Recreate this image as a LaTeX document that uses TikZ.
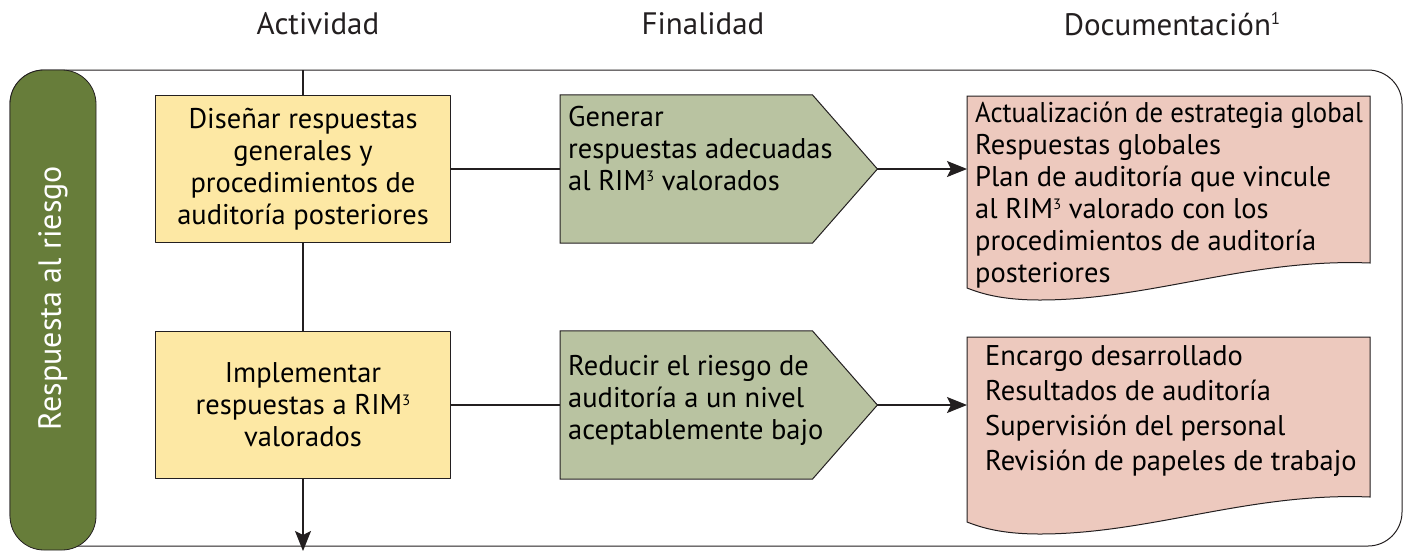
\documentclass[tikz,border=0pt]{standalone}
\usepackage{fontspec}
\setmainfont{PT Sans}
\usetikzlibrary{arrows.meta,backgrounds}
\definecolor{barverde}{HTML}{677D3A}
\definecolor{actamarillo}{HTML}{FDE8A4}
\definecolor{finverde}{HTML}{B9C3A1}
\definecolor{docrosa}{HTML}{EDC9BE}
\definecolor{linea}{HTML}{231F20}
\tikzset{
  head/.style={font=\fontsize{31}{34}\selectfont,text=linea},
  actbox/.style={draw=linea,fill=actamarillo,line width=1pt,minimum width=295pt,
    minimum height=147pt,align=center,inner sep=0pt},
  finbody/.style={anchor=west,minimum width=252pt,minimum height=148pt,inner sep=0pt},
  finshape/.style={draw=linea,fill=finverde,line width=1pt},
  doctext/.style={anchor=north west,align=left,inner ysep=6pt,inner xsep=8pt},
  docshape/.style={draw=linea,fill=docrosa,line width=1pt},
  conn/.style={draw=linea,line width=1.2pt}
}
\newcommand{\hoch}[1]{\raisebox{9pt}{\fontsize{15}{15}\selectfont #1}}
\newcommand{\fintxt}[2]{\parbox[c][#1][t]{290pt}{\raggedright #2}}
\begin{document}
\begin{tikzpicture}[x=1pt,y=-1pt,>={Stealth[length=20pt,width=16pt,inset=4pt]},line join=round,
  font=\fontsize{28.5}{32}\selectfont]
\useasboundingbox (0,0) rectangle (1407,550);
\clip (0,0) rectangle (1407,550);
% column heads
\node[head] (hact) at (318,24) {Actividad};
\node[head] (hfin) at (703,24) {Finalidad};
\node[head] (hdoc) at (1172,24) {Documentación\raisebox{11pt}{\fontsize{17}{17}\selectfont 1}};
% frame and side bar
\draw[linea,line width=1pt,rounded corners=34pt] (10,70) rectangle (1402,546);
\draw[linea,fill=barverde,line width=0.8pt,rounded corners=34pt] (10,70) rectangle (96,550);
\node[rotate=90,text=white,font=\fontsize{32}{34}\selectfont] (side) at (53,298) {Respuesta al riesgo};
% activity boxes
\node[actbox] (dis) at (303,169) {Diseñar respuestas\\generales y\\procedimientos de\\auditoría posteriores};
\node[actbox] (imp) at (303,405) {Implementar\\respuestas a RIM\hoch{3}\\valorados};
% purpose
\node[finbody] (gen) at (560,169) {\hspace*{8pt}\fintxt{126pt}{Generar\\respuestas adecuadas\\al RIM\hoch{3} valorados}\hspace*{-46pt}};
\node[finbody] (red) at (560,405) {\hspace*{8pt}\fintxt{100pt}{Reducir el riesgo de\\auditoría a un nivel\\aceptablemente bajo}\hspace*{-46pt}};
\coordinate (gentip) at ([xshift=65pt]gen.east);
\coordinate (redtip) at ([xshift=65pt]red.east);
% documentation
\node[doctext] (docA) at (967,96) {\scalebox{0.94}[1]{Actualización de estrategia global}\\Respuestas globales\\Plan de auditoría que vincule\\al RIM\hoch{3} valorado con los\\procedimientos de auditoría\\posteriores};
\node[doctext,inner xsep=18pt,inner ysep=8pt,font=\fontsize{28.5}{35}\selectfont] (docB) at (967,337) {Encargo desarrollado\\Resultados de auditoría\\Supervisión del personal\\Revisión de papeles de trabajo};
\begin{pgfonlayer}{background}
\path[finshape] (gen.north west) -- (gen.north east) -- (gentip) -- (gen.south east) -- (gen.south west) -- cycle;
\path[finshape] (red.north west) -- (red.north east) -- (redtip) -- (red.south east) -- (red.south west) -- cycle;
\path[docshape] (967,96) -- (1370,96) -- (1370,263) .. controls (1250,258) and (1150,300) .. (1040,300)
  .. controls (1000,300) and (980,293) .. (967,288) -- cycle;
\path[docshape] (967,337) -- (1370,337) -- (1370,497) .. controls (1250,492) and (1150,534) .. (1040,534)
  .. controls (1000,534) and (980,527) .. (967,522) -- cycle;
\end{pgfonlayer}
% connectors
\coordinate (top) at (303,70);
\coordinate (bot) at (303,551);
\draw[conn] (top) -- (dis.north);
\draw[conn] (dis.south) -- (imp.north);
\draw[conn,->] (imp.south) -- (bot);
\draw[conn] (dis.east) -- (gen.west);
\draw[conn] (imp.east) -- (red.west);
\draw[conn,->] (gentip) -- (gentip -| docA.west);
\draw[conn,->] (redtip) -- (redtip -| docB.west);
\end{tikzpicture}
\end{document}
